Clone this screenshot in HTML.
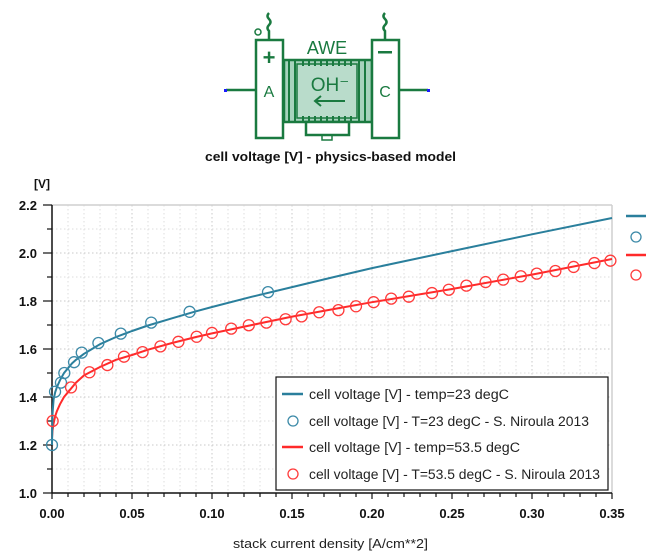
<!DOCTYPE html>
<html><head><meta charset="utf-8">
<style>
html,body{margin:0;padding:0;background:#fff;}
body{width:654px;height:554px;overflow:hidden;font-family:"Liberation Sans",sans-serif;}
svg text{font-family:"Liberation Sans","DejaVu Sans",sans-serif;}
</style></head>
<body>
<svg id="chart" width="654" height="554" viewBox="0 0 654 554" xmlns="http://www.w3.org/2000/svg">
  <g id="icon" stroke="#1a7a40" stroke-width="2.5" fill="none">
    <path d="M269 13 q-3 3 0 6 q3 3 0 6 q-3 3 0 6 l0 8"/>
    <path d="M385 13 q-3 3 0 6 q3 3 0 6 q-3 3 0 6 l0 8"/>
    <circle cx="258" cy="32" r="3" stroke-width="1.5"/>
    <line x1="226" y1="90" x2="255" y2="90"/>
    <line x1="399" y1="90" x2="428" y2="90"/>
    <rect x="284" y="60" width="88" height="62" fill="#a7d3bd"/>
    <rect x="297" y="64" width="60" height="54" fill="#b9dccb" stroke-width="1.5"/>
    <g stroke-width="2">
      <line x1="289" y1="60" x2="289" y2="122"/><line x1="295" y1="60" x2="295" y2="122"/>
      <line x1="359" y1="60" x2="359" y2="122"/><line x1="365" y1="60" x2="365" y2="122"/>
      <line x1="303" y1="60" x2="303" y2="66"/><line x1="309" y1="60" x2="309" y2="66"/><line x1="315" y1="60" x2="315" y2="66"/><line x1="321" y1="60" x2="321" y2="66"/><line x1="327" y1="60" x2="327" y2="66"/><line x1="333" y1="60" x2="333" y2="66"/><line x1="339" y1="60" x2="339" y2="66"/><line x1="345" y1="60" x2="345" y2="66"/><line x1="351" y1="60" x2="351" y2="66"/>
      <line x1="303" y1="116" x2="303" y2="122"/><line x1="309" y1="116" x2="309" y2="122"/><line x1="315" y1="116" x2="315" y2="122"/><line x1="321" y1="116" x2="321" y2="122"/><line x1="327" y1="116" x2="327" y2="122"/><line x1="333" y1="116" x2="333" y2="122"/><line x1="339" y1="116" x2="339" y2="122"/><line x1="345" y1="116" x2="345" y2="122"/><line x1="351" y1="116" x2="351" y2="122"/>
    </g>
    <rect x="306" y="122" width="43" height="13" fill="#fff"/>
    <rect x="322" y="135" width="10" height="5" stroke-width="1.5"/>
    <rect x="256" y="40" width="27" height="98" fill="#fff"/>
    <rect x="372" y="40" width="27" height="98" fill="#fff"/>
    <path d="M345 101 h-30 m6 -5 l-6 5 l6 5" stroke-width="2"/>
  </g>
  <rect x="224" y="89" width="3" height="3" fill="#1a1aff"/>
  <rect x="427" y="89" width="3" height="3" fill="#1a1aff"/>
  <g fill="#1a7a40" text-anchor="middle">
    <text x="327" y="54" font-size="18">AWE</text>
    <text x="269" y="65" font-size="22" font-weight="bold">+</text>
    <text x="269" y="97" font-size="16">A</text>
    <rect x="378" y="51" width="14" height="2.5"/>
    <text x="385" y="97" font-size="16">C</text>
    <text x="330" y="91" font-size="19">OH⁻</text>
  </g>
  <text x="205" y="161" font-size="13" font-weight="bold" textLength="251" lengthAdjust="spacingAndGlyphs" fill="#111">cell voltage [V] - physics-based model</text>
  <text x="42" y="188" font-size="12" font-weight="bold" text-anchor="middle" fill="#111">[V]</text>
  <g id="grid"></g>
  <g id="axes"></g>
  <g id="series"></g>
  <g id="legend">
    <rect x="276" y="377" width="332" height="113" fill="#fff" stroke="#111" stroke-width="1.2"/>
    <line x1="282" y1="394" x2="303" y2="394" stroke="#2a7f9c" stroke-width="2.5"/>
    <text x="309" y="399" font-size="13.5" textLength="200" lengthAdjust="spacingAndGlyphs" fill="#222">cell voltage [V] - temp=23 degC</text>
    <circle cx="293" cy="421" r="5" fill="none" stroke="#3c8aa8" stroke-width="1.3"/>
    <text x="309" y="426" font-size="13.5" textLength="280" lengthAdjust="spacingAndGlyphs" fill="#222">cell voltage [V] - T=23 degC - S. Niroula 2013</text>
    <line x1="282" y1="447" x2="303" y2="447" stroke="#ff2a2a" stroke-width="2.5"/>
    <text x="309" y="452" font-size="13.5" textLength="211" lengthAdjust="spacingAndGlyphs" fill="#222">cell voltage [V] - temp=53.5 degC</text>
    <circle cx="293" cy="474" r="5" fill="none" stroke="#ff3b3b" stroke-width="1.3"/>
    <text x="309" y="479" font-size="13.5" textLength="291" lengthAdjust="spacingAndGlyphs" fill="#222">cell voltage [V] - T=53.5 degC - S. Niroula 2013</text>
  </g>
  <g>
    <line x1="626" y1="216" x2="646" y2="216" stroke="#2a7f9c" stroke-width="2.5"/>
    <circle cx="636" cy="237" r="5" fill="none" stroke="#3c8aa8" stroke-width="1.3"/>
    <line x1="626" y1="255" x2="646" y2="255" stroke="#ff2a2a" stroke-width="2.5"/>
    <circle cx="636" cy="275" r="5" fill="none" stroke="#ff3b3b" stroke-width="1.3"/>
  </g>
  <text x="233" y="548" font-size="13" textLength="195" lengthAdjust="spacingAndGlyphs" fill="#222">stack current density [A/cm**2]</text>
</svg>
<script>
const xTicks = [0, 0.05, 0.10, 0.15, 0.20, 0.25, 0.30, 0.35];
const xTickLabels = ["0.00","0.05","0.10","0.15","0.20","0.25","0.30","0.35"];
const yTicks = [1.0, 1.2, 1.4, 1.6, 1.8, 2.0, 2.2];
const yTickLabels = ["1.0","1.2","1.4","1.6","1.8","2.0","2.2"];
const blueLineJ = [0, 0.0003, 0.001, 0.002, 0.003, 0.005, 0.0075, 0.01, 0.0125, 0.015, 0.02, 0.025, 0.03, 0.04, 0.05, 0.06, 0.075, 0.09, 0.1, 0.125, 0.15, 0.175, 0.2, 0.25, 0.3, 0.35];
const blueLineV = [1.20, 1.33, 1.39, 1.42, 1.44, 1.47, 1.50, 1.52, 1.54, 1.555, 1.58, 1.60, 1.62, 1.65, 1.675, 1.698, 1.728, 1.757, 1.775, 1.818, 1.858, 1.898, 1.937, 2.008, 2.078, 2.146];
const redLineJ = [0, 0.0003, 0.001, 0.002, 0.003, 0.005, 0.0075, 0.01, 0.015, 0.02, 0.03, 0.04, 0.05, 0.06, 0.075, 0.09, 0.1, 0.125, 0.15, 0.175, 0.2, 0.25, 0.3, 0.35];
const redLineV = [1.23, 1.26, 1.29, 1.32, 1.34, 1.37, 1.40, 1.42, 1.46, 1.49, 1.525, 1.555, 1.575, 1.597, 1.625, 1.65, 1.665, 1.70, 1.735, 1.765, 1.795, 1.85, 1.91, 1.975];
const blueDataJ = [0, 0.0019, 0.0056, 0.0077, 0.0138, 0.0186, 0.029, 0.043, 0.062, 0.086, 0.135];
const blueDataV = [1.20, 1.422, 1.46, 1.50, 1.545, 1.585, 1.625, 1.664, 1.71, 1.755, 1.837];
const redDataJ = [0.0004, 0.0119, 0.0234, 0.0346, 0.045, 0.0566, 0.0678, 0.079, 0.0904, 0.100, 0.112, 0.123, 0.134, 0.146, 0.156, 0.167, 0.179, 0.190, 0.201, 0.212, 0.223, 0.2375, 0.248, 0.259, 0.271, 0.282, 0.293, 0.303, 0.3146, 0.326, 0.339, 0.349];
const redDataV = [1.30, 1.44, 1.503, 1.533, 1.568, 1.587, 1.611, 1.63, 1.651, 1.667, 1.685, 1.699, 1.71, 1.724, 1.736, 1.753, 1.762, 1.778, 1.795, 1.81, 1.818, 1.833, 1.847, 1.864, 1.879, 1.889, 1.903, 1.914, 1.925, 1.942, 1.958, 1.968];

const NS = "http://www.w3.org/2000/svg";
const X0 = 52, X1 = 612, Y0 = 493, Y1 = 205;
function sx(j){ return X0 + (j - 0) / 0.35 * (X1 - X0); }
function sy(v){ return Y0 - (v - 1.0) / 1.2 * (Y0 - Y1); }
function mk(tag, attrs, parent){ const e = document.createElementNS(NS, tag); for (const k in attrs) e.setAttribute(k, attrs[k]); parent.appendChild(e); return e; }

const grid = document.getElementById('grid');
for (let i = 1; i <= 35; i++) {
  const x = sx(i * 0.01);
  const l = mk('line', {x1:x, y1:Y1, x2:x, y2:Y0, stroke: i%5===0 ? '#c8c8c8' : '#dedede', 'stroke-width':1, 'stroke-dasharray':'1.5,2.5'}, grid);
  
  
}
for (let i = 1; i <= 12; i++) {
  const y = sy(1.0 + i * 0.1);
  const l = mk('line', {x1:X0, y1:y, x2:X1, y2:y, stroke: i%2===0 ? '#c8c8c8' : '#dedede', 'stroke-width':1, 'stroke-dasharray':'1.5,2.5'}, grid);
  
  
}

const axes = document.getElementById('axes');
mk('line', {x1:X0, y1:Y1, x2:X1, y2:Y1, stroke:'#cfcfcf', 'stroke-width':1.5}, axes);
mk('line', {x1:X1, y1:Y1, x2:X1, y2:Y0, stroke:'#cfcfcf', 'stroke-width':1.5}, axes);
const yAxis = mk('line', {x1:X0, y1:Y1, x2:X0, y2:Y0, stroke:'#111', 'stroke-width':1.5}, axes);


const xAxis = mk('line', {x1:X0, y1:Y0, x2:X1, y2:Y0, stroke:'#111', 'stroke-width':1.5}, axes);


for (let i = 0; i <= 35; i++) {
  const x = sx(i * 0.01);
  mk('line', {x1:x, y1:Y0, x2:x, y2:Y0 + (i%5===0 ? 6 : 4), stroke:'#111', 'stroke-width':1.2}, axes);
}
for (let i = 0; i <= 12; i++) {
  const y = sy(1.0 + i * 0.1);
  mk('line', {x1:X0 - (i%2===0 ? 9 : 5), y1:y, x2:X0, y2:y, stroke:'#111', 'stroke-width':1.2}, axes);
}
xTicks.forEach((t, i) => {
  const tx = mk('text', {x: sx(t), y: 518, 'font-size': 13, 'font-weight':'bold', 'text-anchor':'middle', fill:'#111'}, axes);
  tx.textContent = xTickLabels[i];
  
  
});
yTicks.forEach((t, i) => {
  const tx = mk('text', {x: 37, y: sy(t) + 5, 'font-size': 13, 'font-weight':'bold', 'text-anchor':'end', fill:'#111'}, axes);
  tx.textContent = yTickLabels[i];
  
  
});

const series = document.getElementById('series');
function line(J, V, color, name){
  const d = J.map((j, i) => (i ? 'L' : 'M') + sx(j).toFixed(1) + ' ' + sy(V[i]).toFixed(1)).join(' ');
  const p = mk('path', {d: d, fill:'none', stroke: color, 'stroke-width': 2, 'stroke-linejoin':'round'}, series);
  
  
}
function pts(J, V, color, name){
  J.forEach((j, i) => {
    const c = mk('circle', {cx: sx(j), cy: sy(V[i]), r: 5.5, fill:'none', stroke: color, 'stroke-width': 1.3}, series);
    
    
  });
}
line(redLineJ, redLineV, '#ff2a2a', 'red-model-line');
line(blueLineJ, blueLineV, '#2a7f9c', 'blue-model-line');
pts(blueDataJ, blueDataV, '#3c8aa8', 'blue-data-point');
pts(redDataJ, redDataV, '#ff3b3b', 'red-data-point');
</script>
</body></html>
